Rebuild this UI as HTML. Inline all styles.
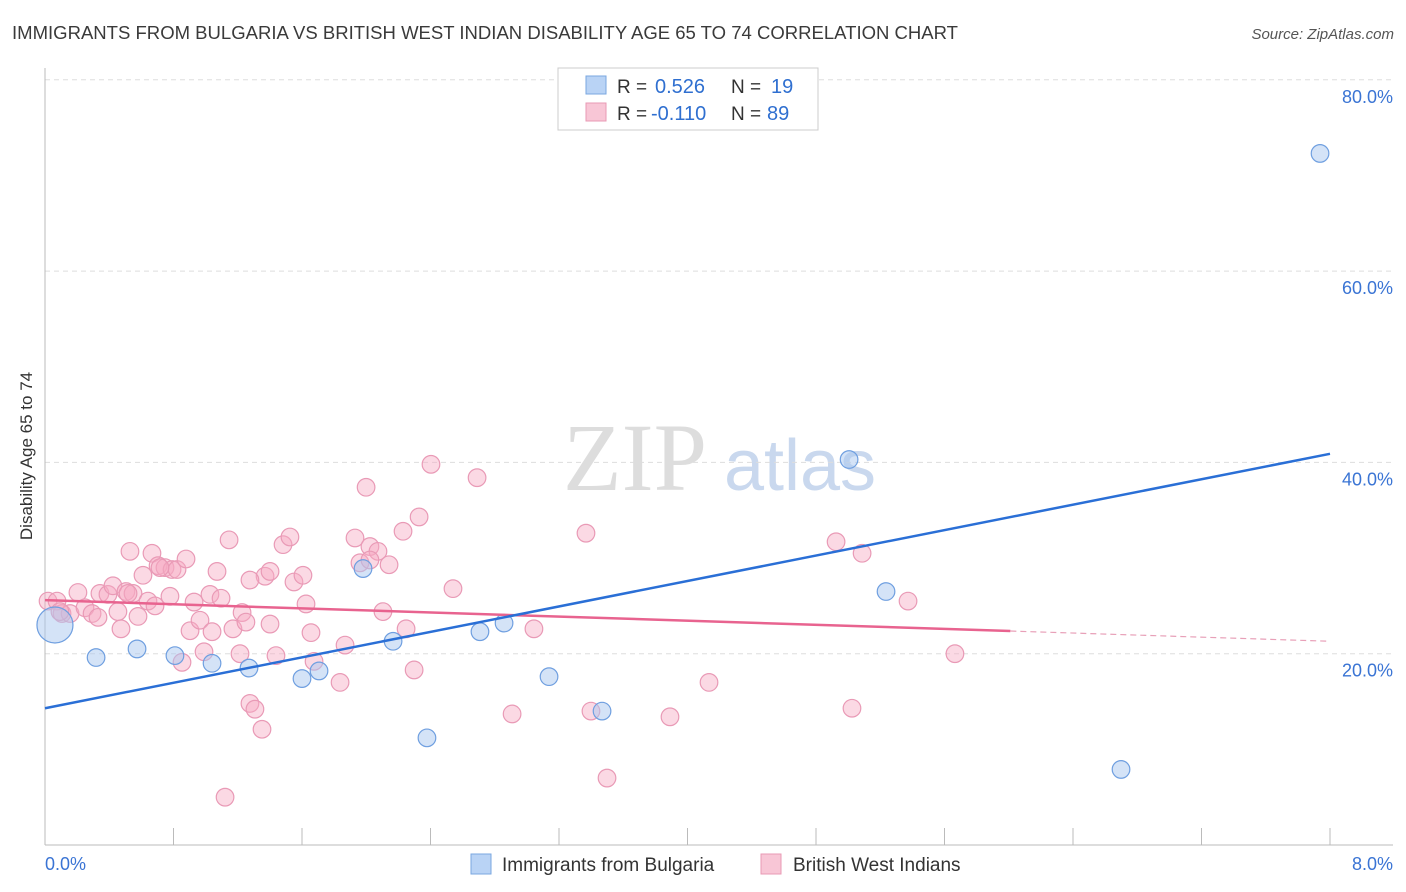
<!DOCTYPE html>
<html><head><meta charset="utf-8"><style>
body{margin:0;background:#fff;font-family:"Liberation Sans",sans-serif;}
#c{position:relative;width:1406px;height:892px;overflow:hidden}
</style></head><body>
<div id="c">
<svg id="s" width="1406" height="892" xmlns="http://www.w3.org/2000/svg">
<text x="12" y="39" font-size="18" fill="#3a3a3a" textLength="946" lengthAdjust="spacingAndGlyphs">IMMIGRANTS FROM BULGARIA VS BRITISH WEST INDIAN DISABILITY AGE 65 TO 74 CORRELATION CHART</text>
<text x="1394" y="39" font-size="15" fill="#555" font-style="italic" text-anchor="end">Source: ZipAtlas.com</text>
<text x="32" y="456" font-size="17" fill="#333" text-anchor="middle" transform="rotate(-90 32 456)">Disability Age 65 to 74</text>
<g><text x="635" y="490" font-size="96" fill="#ddd" font-family="Liberation Serif,serif" text-anchor="middle">ZIP</text><text x="800" y="490" font-size="72" fill="#c9d8ee" text-anchor="middle">atlas</text></g>
<g id="grid"></g><g id="marks"></g>
<g>
<rect x="558" y="68" width="260" height="62" fill="#fff" stroke="#ccc"/>
<rect x="586" y="76" width="20" height="18" fill="#b9d3f5" stroke="#7aa7e0"/>
<rect x="586" y="103" width="20" height="18" fill="#f8c6d6" stroke="#e89ab4"/>
<text x="617" y="93" font-size="19" fill="#333">R =</text>
<text x="655" y="93" font-size="20" fill="#2f6fd0">0.526</text>
<text x="731" y="93" font-size="19" fill="#333">N =</text>
<text x="771" y="93" font-size="20" fill="#2f6fd0">19</text>
<text x="617" y="120" font-size="19" fill="#333">R =</text>
<text x="651" y="120" font-size="20" fill="#2f6fd0">-0.110</text>
<text x="731" y="120" font-size="19" fill="#333">N =</text>
<text x="767" y="120" font-size="20" fill="#2f6fd0">89</text>
</g>
<g>
<rect x="471" y="854" width="20" height="20" fill="#b9d3f5" stroke="#7aa7e0"/>
<text x="502" y="871" font-size="19" fill="#333">Immigrants from Bulgaria</text>
<rect x="761" y="854" width="20" height="20" fill="#f8c6d6" stroke="#e89ab4"/>
<text x="793" y="871" font-size="19" fill="#333">British West Indians</text>
</g>
</svg></div>
<script>
const yTicks=[20,40,60,80];
const yTickLabels=["20.0%","40.0%","60.0%","80.0%"];
const xTickLabels=["0.0%","8.0%"];
const blueX=[0.062,0.318,0.573,0.809,1.040,1.270,1.600,1.706,1.980,2.167,2.378,2.708,2.858,3.138,3.468,5.006,5.236,6.699,7.938];
const blueY=[23.0,19.6,20.5,19.8,19.0,18.5,17.4,18.2,28.9,21.3,11.2,22.3,23.2,17.6,14.0,40.3,26.5,7.9,72.3];
const pinkX=[0.019,0.075,0.106,0.156,0.205,0.249,0.293,0.330,0.342,0.392,0.423,0.454,0.473,0.504,0.529,0.548,0.579,0.610,0.641,0.666,0.685,0.704,0.747,0.778,0.791,0.822,0.853,0.878,0.903,0.928,0.965,0.990,1.027,1.040,1.071,1.096,1.121,1.146,1.170,1.214,1.227,1.251,1.276,1.307,1.351,1.370,1.401,1.401,1.438,1.482,1.525,1.550,1.606,1.625,1.656,1.675,1.837,1.868,1.930,1.961,1.999,2.023,2.073,2.104,2.142,2.229,2.248,2.298,2.329,2.403,2.540,2.690,2.908,3.044,3.368,3.399,3.499,3.891,4.134,4.925,5.024,5.087,5.373,5.665,0.093,0.517,0.716,1.276,2.023];
const pinkY=[25.5,25.5,24.2,24.2,26.4,24.8,24.2,23.8,26.3,26.2,27.1,24.4,22.6,26.5,30.7,26.3,23.9,28.2,25.5,30.5,25.0,29.2,29.0,26.0,28.8,28.8,19.1,29.9,22.4,25.4,23.5,20.2,26.2,22.3,28.6,25.8,5.0,31.9,22.6,20.0,24.3,23.3,14.8,14.2,12.1,28.1,28.6,23.1,19.8,31.4,32.2,27.5,28.2,25.2,22.2,19.2,17.0,20.9,32.1,29.5,37.4,31.2,30.7,24.4,29.3,32.8,22.6,18.3,34.3,39.8,26.8,38.4,13.7,22.6,32.6,14.0,7.0,13.4,17.0,31.7,14.3,30.5,25.5,20.0,24.4,26.3,29.0,27.7,29.8];
const blueLine=[14.3,40.9];
const pinkLine=[25.6,21.3];
const pinkSolidEnd=6.01;
const X0=45,X1=1330,Y0=845,YS=191.3/20;
const sx=v=>X0+(X1-X0)*v/8, sy=v=>Y0-v*YS;
const NS="http://www.w3.org/2000/svg";
function mk(p,t,a){const e=document.createElementNS(NS,t);for(const k in a)e.setAttribute(k,a[k]);p.appendChild(e);return e;}
const g=document.getElementById('grid'),m=document.getElementById('marks');
yTicks.forEach((t,i)=>{
 const l=mk(g,'line',{x1:X0,x2:1393,y1:sy(t),y2:sy(t),stroke:'#ddd','stroke-dasharray':'5,4'});
 
 
 const tx=mk(g,'text',{x:1393,y:sy(t)+23,'font-size':18,fill:'#3a74d4','text-anchor':'end'});tx.textContent=yTickLabels[i];
 
 
});
const ax=mk(g,'line',{x1:X0,x2:1393,y1:Y0,y2:Y0,stroke:'#bbb'});


const ay=mk(g,'line',{x1:X0,x2:X0,y1:68,y2:Y0,stroke:'#bbb'});


for(let i=0;i<=10;i++){const t=mk(g,'line',{x1:sx(i*0.8),x2:sx(i*0.8),y1:828,y2:Y0,stroke:'#bbb'});
 
 }
[[0,'start',X0],[8,'end',1393]].forEach((d,i)=>{const t=mk(g,'text',{x:d[2],y:870,'font-size':18,fill:'#3a74d4','text-anchor':d[1]});t.textContent=xTickLabels[i];
 
 });
pinkX.forEach((x,i)=>{const c=mk(m,'circle',{cx:sx(x),cy:sy(pinkY[i]),r:8.8,fill:'rgba(246,170,196,0.45)',stroke:'#e99ab6','stroke-width':1.2});
 
 });
blueX.forEach((x,i)=>{const c=mk(m,'circle',{cx:sx(x),cy:sy(blueY[i]),r:i==0?18:8.8,fill:'rgba(170,200,240,0.5)',stroke:'#6f9fe0','stroke-width':1.2});
 
 });
const pl=v=>pinkLine[0]+(pinkLine[1]-pinkLine[0])*v/8;
const p1=mk(m,'line',{x1:sx(0),y1:sy(pl(0)),x2:sx(pinkSolidEnd),y2:sy(pl(pinkSolidEnd)),stroke:'#e8638f','stroke-width':2.5});


const p2=mk(m,'line',{x1:sx(pinkSolidEnd),y1:sy(pl(pinkSolidEnd)),x2:sx(8),y2:sy(pl(8)),stroke:'#e8a0b8','stroke-width':1.2,'stroke-dasharray':'6,4'});


const bl=mk(m,'line',{x1:sx(0),y1:sy(blueLine[0]),x2:sx(8),y2:sy(blueLine[1]),stroke:'#2a6fd6','stroke-width':2.5});


</script>
</body></html>
